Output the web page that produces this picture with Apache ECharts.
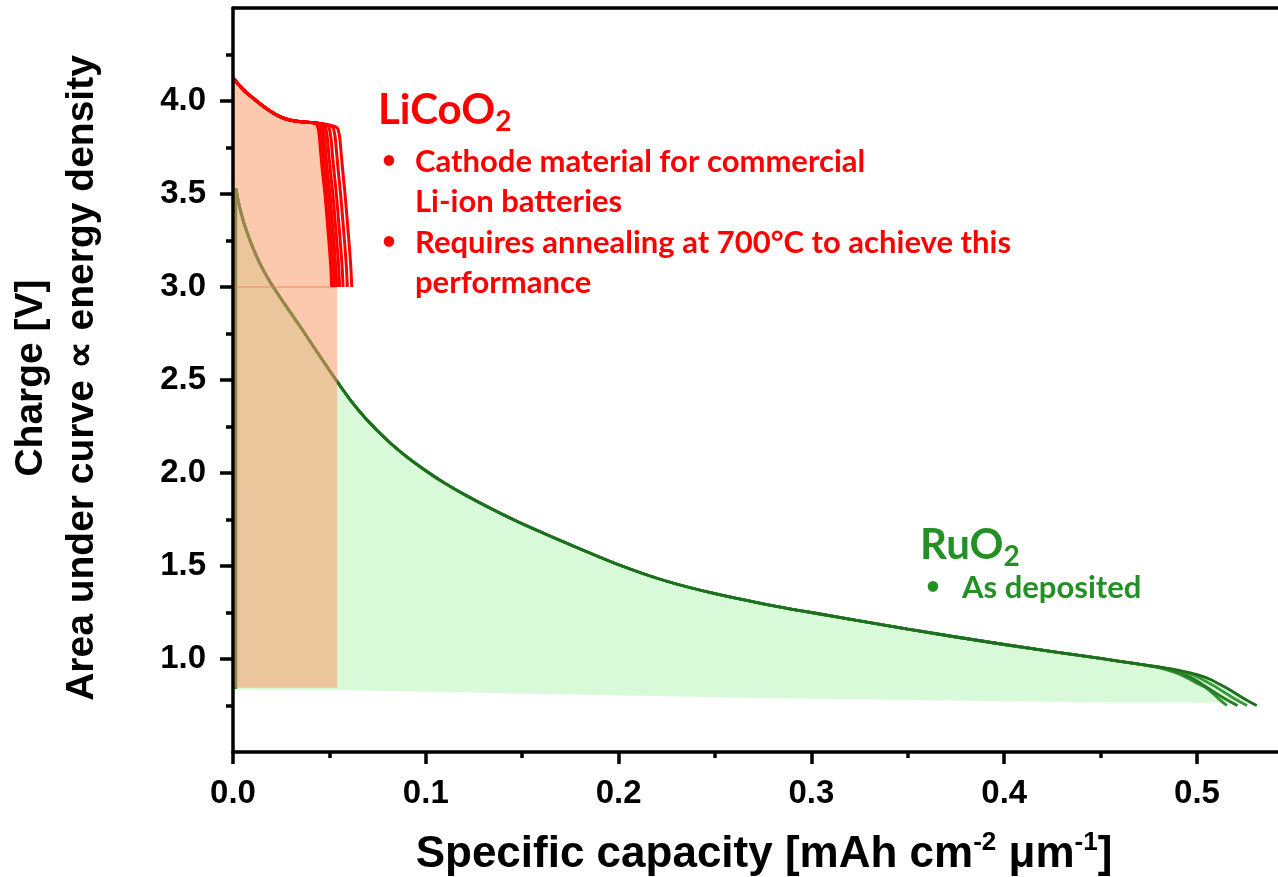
<!DOCTYPE html>
<html>
<head>
<meta charset="utf-8">
<script src="https://cdn.jsdelivr.net/npm/echarts@6/dist/echarts.min.js"></script>
<style>
  html, body { margin: 0; padding: 0; background: #ffffff; }
  #chart { width: 1278px; height: 877px; }
</style>
</head>
<body>
<div id="chart"></div>
<script>
// Axis tick positions
const X_TICKS = [0, 0.1, 0.2, 0.3, 0.4, 0.5];
const Y_TICKS = [1.0, 1.5, 2.0, 2.5, 3.0, 3.5, 4.0];

// LiCoO2 discharge curves: shared sloping start, then one tail per cycle
const LICOO2_HEAD = [
  [0, 4.125], [0.002, 4.10], [0.005, 4.065], [0.008, 4.035], [0.0105, 4.015],
  [0.014, 3.985], [0.0192, 3.946], [0.0235, 3.92], [0.0278, 3.902],
  [0.032, 3.893], [0.0365, 3.887], [0.040, 3.885]
];
const LICOO2_TAILS = [
  [[0.0425, 3.884], [0.0437, 3.868], [0.0445, 3.835], [0.0451, 3.77], [0.0462, 3.64], [0.0477, 3.50], [0.0490, 3.34], [0.0500, 3.21], [0.0507, 3.11], [0.0512, 3.00]],
  [[0.0435, 3.882], [0.0450, 3.866], [0.0458, 3.835], [0.0464, 3.77], [0.0475, 3.64], [0.0490, 3.50], [0.0503, 3.34], [0.0513, 3.21], [0.0520, 3.11], [0.0525, 3.00]],
  [[0.0445, 3.880], [0.0463, 3.864], [0.0471, 3.833], [0.0477, 3.77], [0.0488, 3.64], [0.0503, 3.50], [0.0516, 3.34], [0.0526, 3.21], [0.0533, 3.11], [0.0538, 3.00]],
  [[0.0460, 3.877], [0.0478, 3.862], [0.0486, 3.832], [0.0492, 3.775], [0.0503, 3.645], [0.0518, 3.50], [0.0531, 3.34], [0.0541, 3.21], [0.0548, 3.11], [0.0553, 3.00]],
  [[0.0475, 3.875], [0.0496, 3.860], [0.0504, 3.830], [0.0510, 3.78], [0.0521, 3.65], [0.0536, 3.50], [0.0549, 3.34], [0.0559, 3.21], [0.0566, 3.11], [0.0571, 3.00]],
  [[0.0490, 3.873], [0.0518, 3.858], [0.0526, 3.830], [0.0532, 3.785], [0.0543, 3.655], [0.0558, 3.50], [0.0571, 3.34], [0.0581, 3.21], [0.0588, 3.11], [0.0593, 3.00]],
  [[0.0505, 3.870], [0.0541, 3.855], [0.0549, 3.83], [0.0555, 3.79], [0.0566, 3.66], [0.0581, 3.50], [0.0594, 3.34], [0.0604, 3.21], [0.0611, 3.11], [0.0616, 3.00]]
];
// LiCoO2 energy box: cut-off voltage, right edge and floor
const LICOO2_CUTOFF = 3.0;
const LICOO2_AREA_RIGHT = 0.054;
const LICOO2_AREA_FLOOR = 0.845;

// RuO2: initial voltage step at zero capacity
const RUO2_STEP = [[0.0015, 0.84], [0.0015, 3.53]];
// RuO2 discharge curves: shared body, then one tail per cycle
const RUO2_HEAD = [
  [0.0015, 3.53], [0.003, 3.45], [0.0055, 3.35], [0.0085, 3.26], [0.012, 3.17],
  [0.016, 3.085], [0.020, 3.015], [0.027, 2.905], [0.035, 2.785], [0.044, 2.645],
  [0.054, 2.492], [0.0615, 2.384], [0.0693, 2.288], [0.08, 2.176], [0.09, 2.088],
  [0.1, 2.012], [0.11, 1.944], [0.12, 1.884], [0.135, 1.802], [0.15, 1.727],
  [0.175, 1.614], [0.2, 1.507], [0.225, 1.418], [0.25, 1.351], [0.275, 1.297],
  [0.3, 1.25], [0.35, 1.16], [0.4, 1.078], [0.45, 1.003], [0.47, 0.972]
];
const RUO2_TAILS = [
  [[0.476, 0.962], [0.483, 0.946], [0.489, 0.926], [0.495, 0.898], [0.500, 0.870], [0.505, 0.842], [0.509, 0.808], [0.5119, 0.78], [0.5155, 0.75]],
  [[0.48, 0.957], [0.488, 0.938], [0.494, 0.915], [0.499, 0.888], [0.504, 0.855], [0.508, 0.828], [0.5123, 0.80], [0.517, 0.772], [0.521, 0.75]],
  [[0.48, 0.957], [0.49, 0.939], [0.498, 0.914], [0.503, 0.889], [0.509, 0.854], [0.513, 0.828], [0.5173, 0.80], [0.522, 0.772], [0.526, 0.75]],
  [[0.48, 0.957], [0.49, 0.94], [0.50, 0.916], [0.507, 0.89], [0.5137, 0.853], [0.518, 0.828], [0.5223, 0.80], [0.527, 0.772], [0.531, 0.75]]
];
// Lower edge of the RuO2 energy area, right to left
const RUO2_AREA_FLOOR = [
  [0.531, 0.765], [0.45, 0.768], [0.35, 0.78], [0.25, 0.795], [0.15, 0.815], [0.054, 0.833], [0, 0.835]
];

const RED = '#ff0000';
const GREEN_TEXT = '#239023';
const GREEN_LINES = ['#2f8f2f', '#247c24', '#3a9a3a', '#1d6e1d'];
const AXIS_FONT = '"Liberation Sans", Arial, sans-serif';
const NOTE_FONT = 'Lato, "Open Sans", sans-serif';

const licoo2Curves = LICOO2_TAILS.map(t => LICOO2_HEAD.concat(t));
const ruo2Curves = RUO2_TAILS.map(t => RUO2_HEAD.concat(t));

const licoo2Area = [[0, LICOO2_AREA_FLOOR]]
  .concat(LICOO2_HEAD, LICOO2_TAILS[0], [[LICOO2_AREA_RIGHT, LICOO2_CUTOFF], [LICOO2_AREA_RIGHT, LICOO2_AREA_FLOOR]]);
const ruo2Area = RUO2_HEAD
  .concat(RUO2_TAILS[RUO2_TAILS.length - 1].filter(p => p[1] > RUO2_AREA_FLOOR[0][1]), RUO2_AREA_FLOOR);

function polygonSeries(points, fill, z) {
  return {
    type: 'custom',
    coordinateSystem: 'cartesian2d',
    z: z,
    silent: true,
    clip: true,
    data: [points[0]],
    renderItem: function (params, api) {
      return {
        type: 'polygon',
        shape: { points: points.map(p => api.coord(p)) },
        style: { fill: fill }
      };
    }
  };
}

function curveSeries(data, color, width, z, smooth) {
  return {
    type: 'line',
    data: data,
    z: z,
    smooth: smooth || false,
    showSymbol: false,
    symbol: 'none',
    silent: true,
    lineStyle: { color: color, width: width },
    emphasis: { disabled: true }
  };
}

const series = [];
series.push(polygonSeries(ruo2Area, '#d9fad9', 1));
series.push(curveSeries(RUO2_STEP, GREEN_LINES[3], 2.6, 2));
ruo2Curves.forEach((c, i) => series.push(curveSeries(c, GREEN_LINES[i], 2.8, 2, 0.25)));
series.push(polygonSeries(licoo2Area, 'rgba(250,155,108,0.55)', 3));
series.push(curveSeries([[0, LICOO2_CUTOFF], [LICOO2_AREA_RIGHT, LICOO2_CUTOFF]], 'rgba(240,130,90,0.45)', 2, 3));
licoo2Curves.forEach(c => series.push(curveSeries(c, RED, 3, 4, 0.2)));

const axisLine = { show: true, lineStyle: { color: '#000', width: 3.5 } };

const option = {
  animation: false,
  backgroundColor: '#ffffff',
  grid: { left: 233, top: 8, right: 0, bottom: 125 },
  xAxis: [
    {
      type: 'value', min: 0, max: 0.542, interval: 0.1, z: 10,
      axisLine: axisLine,
      axisTick: { show: true, inside: false, length: 12, customValues: X_TICKS, lineStyle: { color: '#000', width: 3.5 } },
      minorTick: { show: true, splitNumber: 2, length: 6, lineStyle: { color: '#000', width: 3.5 } },
      splitLine: { show: false },
      axisLabel: {
        customValues: X_TICKS, margin: 25, color: '#000', fontSize: 33, fontWeight: 'bold', fontFamily: AXIS_FONT,
        formatter: v => v.toFixed(1)
      }
    },
    {
      type: 'value', position: 'top', min: 0, max: 0.542, z: 10,
      axisLine: axisLine, axisTick: { show: false }, axisLabel: { show: false }, splitLine: { show: false }
    }
  ],
  yAxis: {
    type: 'value', min: 0.5, max: 4.5, interval: 0.5, z: 10,
    axisLine: axisLine,
    axisTick: { show: true, inside: false, length: 13, customValues: Y_TICKS, lineStyle: { color: '#000', width: 3.5 } },
    minorTick: { show: true, splitNumber: 2, length: 7, lineStyle: { color: '#000', width: 3.5 } },
    splitLine: { show: false },
    axisLabel: {
      customValues: Y_TICKS, margin: 27, color: '#000', fontSize: 33, fontWeight: 'bold', fontFamily: AXIS_FONT,
      formatter: v => v.toFixed(1)
    }
  },
  series: series,
  graphic: [
    {
      type: 'text', x: 57, y: 378, rotation: Math.PI / 2,
      style: {
        text: 'Charge [V]\nArea under curve ∝ energy density',
        fill: '#000', font: 'bold 39px ' + AXIS_FONT, lineHeight: 51,
        align: 'center', verticalAlign: 'middle'
      }
    },
    {
      type: 'text', x: 764, y: 855,
      style: {
        text: '{t|Specific capacity [mAh cm}{s|-2}{t| μm}{s|-1}{t|]}',
        align: 'center', verticalAlign: 'middle',
        rich: {
          t: { fontSize: 44, fontWeight: 'bold', fontFamily: AXIS_FONT, fill: '#000', lineHeight: 50 },
          s: { fontSize: 26, fontWeight: 'bold', fontFamily: AXIS_FONT, fill: '#000', lineHeight: 28, verticalAlign: 'top' }
        }
      }
    },
    {
      type: 'text', x: 378, y: 110,
      style: {
        text: '{t|LiCoO}{s|2}',
        align: 'left', verticalAlign: 'middle',
        rich: {
          t: { fontSize: 42, fontWeight: 'bold', fontFamily: NOTE_FONT, fill: RED, lineHeight: 52 },
          s: { fontSize: 28, fontWeight: 'bold', fontFamily: NOTE_FONT, fill: RED, lineHeight: 28, verticalAlign: 'bottom' }
        }
      }
    },
    { type: 'text', x: 382, y: 160, style: { text: '•', fill: RED, font: 'bold 24px ' + NOTE_FONT, align: 'left', verticalAlign: 'middle' } },
    { type: 'text', x: 382, y: 241, style: { text: '•', fill: RED, font: 'bold 24px ' + NOTE_FONT, align: 'left', verticalAlign: 'middle' } },
    {
      type: 'text', x: 415, y: 181.5,
      style: { text: 'Cathode material for commercial\nLi-ion batteries', fill: RED, font: 'bold 31px ' + NOTE_FONT, lineHeight: 40, align: 'left', verticalAlign: 'middle' }
    },
    {
      type: 'text', x: 415, y: 263,
      style: { text: 'Requires annealing at 700°C to achieve this\nperformance', fill: RED, font: 'bold 31px ' + NOTE_FONT, lineHeight: 40, align: 'left', verticalAlign: 'middle' }
    },
    {
      type: 'text', x: 920, y: 545,
      style: {
        text: '{t|RuO}{s|2}',
        align: 'left', verticalAlign: 'middle',
        rich: {
          t: { fontSize: 42, fontWeight: 'bold', fontFamily: NOTE_FONT, fill: GREEN_TEXT, lineHeight: 52 },
          s: { fontSize: 28, fontWeight: 'bold', fontFamily: NOTE_FONT, fill: GREEN_TEXT, lineHeight: 28, verticalAlign: 'bottom' }
        }
      }
    },
    { type: 'text', x: 926, y: 586, style: { text: '•', fill: GREEN_TEXT, font: 'bold 24px ' + NOTE_FONT, align: 'left', verticalAlign: 'middle' } },
    {
      type: 'text', x: 962, y: 588,
      style: { text: 'As deposited', fill: GREEN_TEXT, font: 'bold 31px ' + NOTE_FONT, align: 'left', verticalAlign: 'middle' }
    }
  ]
};

const chart = echarts.init(document.getElementById('chart'), null, { renderer: 'canvas' });
chart.setOption(option);
</script>
</body>
</html>
